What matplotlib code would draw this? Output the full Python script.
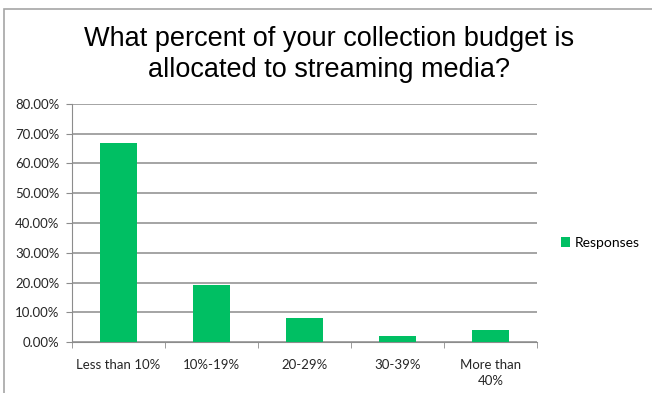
import matplotlib.pyplot as plt
from matplotlib.patches import Rectangle
from matplotlib.ticker import FuncFormatter, MultipleLocator

categories = ["Less than 10%", "10%-19%", "20-29%", "30-39%", "More than\n40%"]
responses = [0.67, 0.193, 0.08, 0.02, 0.039]

green = '#00BF63'
grid_gray = '#8C8C8C'

fig = plt.figure(figsize=(6.52, 3.93), dpi=100)
fig.patch.set_facecolor('white')

# chart frame (cut off at right and bottom like the screenshot)
fig.patches.append(Rectangle((4 / 652, -0.2), 1.2, 1 - 9 / 393 + 0.2,
                             transform=fig.transFigure, fill=False,
                             edgecolor='#A6A6A6', linewidth=1.2))

ax = fig.add_axes([72 / 652, 1 - 342 / 393, 465 / 652, 238 / 393])
x = range(len(categories))
bars = ax.bar(x, responses, width=0.4, color=green, label='Responses', zorder=3)

ax.set_xlim(-0.5, len(categories) - 0.5)
ax.set_ylim(0, 0.8)
ax.yaxis.set_major_locator(MultipleLocator(0.1))
ax.yaxis.set_major_formatter(FuncFormatter(lambda v, p: f'{v * 100:.2f}%'))
ax.grid(axis='y', color=grid_gray, linewidth=1.1, zorder=0)

ax.set_xticks(list(x))
ax.set_xticklabels(categories, fontsize=9.5, family='Lato', color='#262626',
                   linespacing=1.45)
ax.tick_params(axis='x', length=0, pad=12)
ax.set_xticks([i + 0.5 for i in range(-1, len(categories))], minor=True)
ax.tick_params(axis='x', which='minor', length=4, color=grid_gray, direction='out')
ax.tick_params(axis='y', length=4, color=grid_gray, labelsize=9.5,
               labelcolor='#262626', pad=5)
for lbl in ax.get_yticklabels():
    lbl.set_family('Lato')

for side in ['top', 'right']:
    ax.spines[side].set_visible(False)
ax.spines['left'].set_color(grid_gray)
ax.spines['bottom'].set_color(grid_gray)

fig.text(0.505, 1 - 39 / 393, 'What percent of your collection budget is',
         ha='center', va='center', fontsize=19.5, family='Liberation Sans')
fig.text(0.505, 1 - 70 / 393, 'allocated to streaming media?',
         ha='center', va='center', fontsize=19.5, family='Liberation Sans')

leg = fig.legend(handles=[bars], labels=['Responses'], loc='center left',
                 bbox_to_anchor=(548 / 652, 1 - 243 / 393), frameon=False,
                 handlelength=0.7, handleheight=0.7, handletextpad=0.3,
                 prop={'family': 'Lato', 'size': 10})

fig.savefig('out.png', dpi=100)
